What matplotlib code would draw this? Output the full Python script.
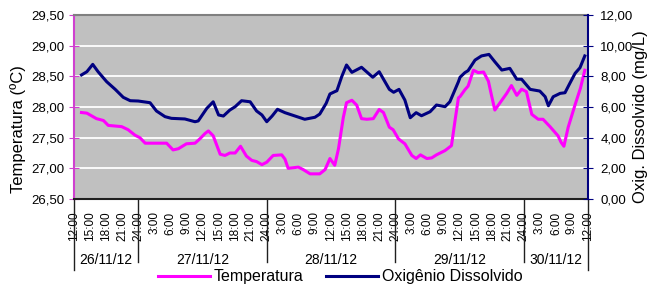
import matplotlib
matplotlib.use('Agg')
from matplotlib import pyplot as plt
from matplotlib import transforms
from matplotlib.lines import Line2D

plt.rcParams['font.family'] = ['Liberation Sans', 'DejaVu Sans']

# hours counted from 12:00 on 26/11/12
temp_hours = [1.4, 2.4, 4.2, 5.5, 6.4, 8.9, 10.1, 11.4, 12.3, 13.3, 17.3, 18.5, 19.5,
              21.0, 22.6, 23.5, 24.5, 25.1, 26.0, 27.3, 28.2, 29.1, 30.1, 31.1, 32.2,
              33.2, 34.1, 35.1, 36.0, 37.2, 38.8, 39.4, 40.0, 41.9, 42.8, 44.1, 45.9,
              46.9, 47.8, 48.7, 49.4, 50.3, 50.9, 51.9, 52.8, 53.7, 54.7, 55.9, 57.0,
              57.8, 58.9, 59.6, 60.6, 61.8, 63.1, 63.9, 64.7, 65.9, 66.8, 67.7, 69.3,
              70.5, 71.2, 71.8, 72.1, 73.0, 73.6, 74.6, 75.5, 76.5, 77.4, 78.0, 78.6,
              79.9, 80.8, 81.7, 82.7, 83.6, 84.5, 85.5, 86.7, 87.6, 88.9, 90.4, 91.0,
              91.5, 92.3, 93.6, 94.6, 95.4]
temperatura = [27.91, 27.90, 27.81, 27.78, 27.70, 27.68, 27.63, 27.54, 27.50, 27.41, 27.41,
               27.30, 27.32, 27.40, 27.41, 27.48, 27.57, 27.61, 27.53, 27.23, 27.21, 27.25,
               27.25, 27.36, 27.20, 27.13, 27.11, 27.06, 27.10, 27.21, 27.22, 27.15, 27.00,
               27.02, 26.98, 26.91, 26.91, 26.98, 27.16, 27.05, 27.32, 27.83, 28.07, 28.11,
               28.03, 27.81, 27.80, 27.81, 27.96, 27.91, 27.67, 27.63, 27.48, 27.40, 27.21,
               27.16, 27.22, 27.16, 27.17, 27.22, 27.29, 27.37, 27.80, 28.15, 28.17, 28.28,
               28.34, 28.60, 28.56, 28.57, 28.42, 28.18, 27.95, 28.11, 28.22, 28.35, 28.19,
               28.29, 28.25, 27.88, 27.80, 27.80, 27.68, 27.53, 27.42, 27.36, 27.67, 28.04,
               28.31, 28.60]

oxi_hours = [1.4, 2.4, 3.5, 4.5, 6.1, 7.7, 9.2, 10.5, 12.0, 14.2, 15.4, 17.0, 18.2, 20.7,
             22.6, 23.2, 24.8, 26.0, 27.0, 27.9, 29.1, 30.1, 31.3, 32.9, 34.1, 35.1, 36.0,
             37.0, 38.0, 39.4, 41.3, 43.1, 45.0, 45.9, 47.1, 47.8, 48.7, 49.1, 50.0, 50.9,
             51.9, 53.7, 55.8, 57.0, 58.9, 59.7, 60.7, 61.8, 62.8, 63.9, 64.9, 66.5, 67.7,
             69.3, 70.2, 71.8, 72.1, 73.0, 73.6, 74.9, 76.1, 77.5, 78.6, 79.9, 81.4, 82.7,
             83.6, 85.2, 87.0, 88.0, 88.6, 89.5, 90.8, 91.7, 92.6, 93.6, 94.5, 95.4]
oxigenio = [8.09, 8.30, 8.78, 8.30, 7.65, 7.15, 6.63, 6.41, 6.39, 6.28, 5.74, 5.37, 5.26,
            5.22, 5.04, 5.09, 5.91, 6.34, 5.48, 5.41, 5.80, 6.02, 6.41, 6.34, 5.74, 5.48,
            5.04, 5.41, 5.85, 5.63, 5.41, 5.20, 5.33, 5.54, 6.24, 6.85, 7.00, 7.06, 7.98,
            8.74, 8.26, 8.59, 7.94, 8.30, 7.15, 6.96, 7.15, 6.45, 5.30, 5.63, 5.43, 5.69,
            6.13, 6.02, 6.34, 7.65, 7.94, 8.24, 8.37, 9.06, 9.33, 9.43, 8.95, 8.41, 8.52,
            7.81, 7.81, 7.15, 7.04, 6.67, 6.08, 6.67, 6.89, 6.93, 7.54, 8.20, 8.56, 9.33]

hour_ticks = list(range(0, 97, 3))
hour_labels = ['12:00', '15:00', '18:00', '21:00', '24:00',
               '3:00', '6:00', '9:00', '12:00', '15:00', '18:00', '21:00', '24:00',
               '3:00', '6:00', '9:00', '12:00', '15:00', '18:00', '21:00', '24:00',
               '3:00', '6:00', '9:00', '12:00', '15:00', '18:00', '21:00', '24:00',
               '3:00', '6:00', '9:00', '12:00']
day_edges = [0, 12, 36, 60, 84, 96]
day_labels = ['26/11/12', '27/11/12', '28/11/12', '29/11/12', '30/11/12']

temp_ticks = [26.5, 27.0, 27.5, 28.0, 28.5, 29.0, 29.5]
temp_labels = ['26,50', '27,00', '27,50', '28,00', '28,50', '29,00', '29,50']
oxi_ticks = [0, 2, 4, 6, 8, 10, 12]
oxi_labels = ['0,00', '2,00', '4,00', '6,00', '8,00', '10,00', '12,00']

MAG = '#FF00FF'
NAVY = '#000080'

fig = plt.figure(figsize=(6.49, 2.86), dpi=100)
ax = fig.add_axes([74 / 649, 1 - 199 / 286, 514 / 649, 184 / 286])
ax.set_facecolor('#C0C0C0')
ax2 = ax.twinx()

ax.plot(temp_hours, temperatura, color=MAG, lw=2.2, solid_joinstyle='round', zorder=3)
ax2.plot(oxi_hours, oxigenio, color=NAVY, lw=2.2, solid_joinstyle='round', zorder=3)

ax.set_xlim(0, 96)
ax.set_ylim(26.5, 29.5)
ax2.set_ylim(0, 12)

ax.set_yticks(temp_ticks)
ax.set_yticklabels(temp_labels, fontsize=9.5)
ax2.set_yticks(oxi_ticks)
ax2.set_yticklabels(oxi_labels, fontsize=9.5)
ax.grid(axis='y', color='white', lw=1.3)
ax.set_axisbelow(True)

ax.set_xticks(hour_ticks)
ax.set_xticklabels(hour_labels, rotation=90, fontsize=8.5, va='top')
ax.tick_params(axis='x', length=0, pad=9)
ax.tick_params(axis='y', direction='inout', length=7, color='#D040D0', pad=3.2)
ax2.tick_params(axis='y', direction='inout', length=7, color=NAVY, pad=5.4)

ax.spines['left'].set_color('#D040D0')
ax.spines['left'].set_linewidth(1.5)
ax.spines['top'].set_color('#808080')
ax.spines['top'].set_linewidth(1.5)
ax.spines['bottom'].set_color('#202020')
ax.spines['bottom'].set_linewidth(1.5)
ax.spines['right'].set_visible(False)
for s in ['left', 'top', 'bottom']:
    ax2.spines[s].set_visible(False)
ax2.spines['right'].set_color(NAVY)
ax2.spines['right'].set_linewidth(1.5)

# day groups under the hour labels
trans = transforms.blended_transform_factory(ax.transData, ax.transAxes)
for i, h in enumerate(day_edges):
    end = -0.386 if i in (0, len(day_edges) - 1) else -0.342
    ax.plot([h, h], [0, end], color='#202020', lw=1.0, transform=trans, clip_on=False)
for i, lab in enumerate(day_labels):
    mid = (day_edges[i] + day_edges[i + 1]) / 2
    ax.text(mid, -0.332, lab, transform=trans, ha='center', va='center', fontsize=10)

fig.text(18 / 649, 1 - 129 / 286, 'Temperatura (ºC)', rotation=90, ha='center',
         va='center', fontsize=12)
fig.text(641 / 649, 1 - 117 / 286, 'Oxig. Dissolvido (mg/L)', rotation=90, ha='center',
         va='center', fontsize=12)

handles = [Line2D([], [], color=MAG, lw=2.2), Line2D([], [], color=NAVY, lw=2.2)]
fig.legend(handles, ['Temperatura', 'Oxigênio Dissolvido'], loc='center',
           bbox_to_anchor=(340 / 649, 1 - 277 / 286), ncol=2, frameon=False,
           fontsize=11.5, handlelength=3.3, handletextpad=0.2, columnspacing=1.4,
           borderpad=0, borderaxespad=0)

fig.savefig('out.png', dpi=100)
